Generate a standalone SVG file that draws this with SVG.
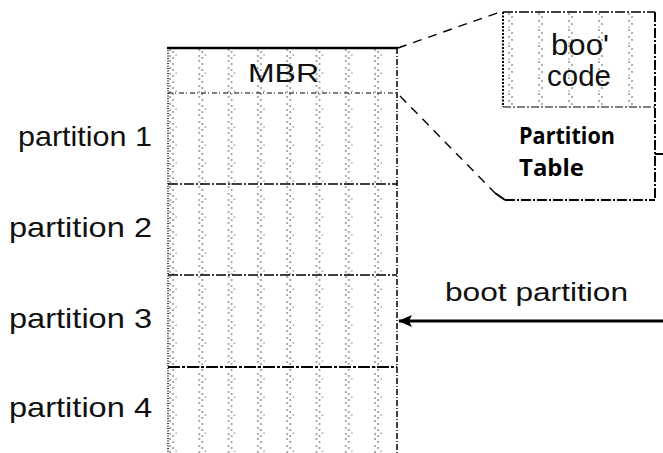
<svg xmlns="http://www.w3.org/2000/svg" width="663" height="453" viewBox="0 0 663 453">
<style>
.lbl{font-family:"Liberation Sans",Arial,sans-serif;fill:#111}
.bold{font-family:"Open Sans","Liberation Sans",sans-serif;font-weight:bold;fill:#000}
.edge{fill:none;stroke:#000}
.zoom{fill:none;stroke:#000;stroke-width:1.4;stroke-dasharray:9 7}
</style>
<defs>
<pattern id="dots" patternUnits="userSpaceOnUse" x="168" y="48" width="29.3" height="18">
<g fill="#222">
<circle cx="2" cy="2" r="0.7"/><circle cx="5" cy="4" r="0.7"/><circle cx="2" cy="8" r="0.7"/>
<circle cx="5" cy="10" r="0.7"/><circle cx="2" cy="13" r="0.7"/><circle cx="5" cy="16" r="0.7"/>
<circle cx="8" cy="7" r="0.6"/>
</g>
</pattern>
<pattern id="dots2" patternUnits="userSpaceOnUse" x="506" y="12" width="30" height="16">
<g fill="#222">
<circle cx="3" cy="2" r="0.7"/><circle cx="6" cy="5" r="0.7"/><circle cx="3" cy="9" r="0.7"/>
<circle cx="6" cy="12" r="0.7"/><circle cx="3" cy="15" r="0.6"/>
</g>
</pattern>
<marker id="arrow" viewBox="0 0 14 12" refX="13" refY="6" markerWidth="14" markerHeight="12" orient="auto" markerUnits="userSpaceOnUse">
<path d="M0,0 L14,6 L0,12 L3,6 Z" fill="#000"/>
</marker>
</defs>

<g id="disk">
<rect x="168" y="48" width="229" height="410" fill="url(#dots)"/>
<line class="edge" x1="167" y1="48" x2="398" y2="48" stroke-width="2.5"/>
<line class="edge" x1="168" y1="48" x2="168" y2="453" stroke-width="1.5" stroke-dasharray="1 1.5"/>
<line class="edge" x1="397" y1="48" x2="397" y2="453" stroke-width="1.5" stroke-dasharray="6 2 1 2"/>
</g>

<g id="mbr">
<line class="edge" x1="168" y1="93" x2="397" y2="93" stroke-width="1.2" stroke-dasharray="5 2 1 3"/>
<text class="lbl" x="248" y="82" font-size="25" textLength="71" lengthAdjust="spacingAndGlyphs">MBR</text>
</g>

<g id="partition1">
<text class="lbl" x="152" y="146" font-size="28" text-anchor="end" textLength="134" lengthAdjust="spacingAndGlyphs">partition 1</text>
</g>
<g id="partition2">
<line class="edge" x1="168" y1="184" x2="397" y2="184" stroke-width="1.6" stroke-dasharray="10 2 2 2"/>
<text class="lbl" x="152" y="237" font-size="28" text-anchor="end" textLength="143" lengthAdjust="spacingAndGlyphs">partition 2</text>
</g>
<g id="partition3">
<line class="edge" x1="168" y1="275" x2="397" y2="275" stroke-width="1.6" stroke-dasharray="10 2 2 2"/>
<text class="lbl" x="152" y="328" font-size="28" text-anchor="end" textLength="143" lengthAdjust="spacingAndGlyphs">partition 3</text>
</g>
<g id="partition4">
<line class="edge" x1="168" y1="367" x2="397" y2="367" stroke-width="2" stroke-dasharray="12 2 3 2"/>
<text class="lbl" x="152" y="417" font-size="28" text-anchor="end" textLength="143" lengthAdjust="spacingAndGlyphs">partition 4</text>
</g>

<g id="partition-table">
<rect x="503" y="12" width="152" height="95" fill="url(#dots2)"/>
<line class="edge" x1="503" y1="12" x2="655" y2="12" stroke-width="1.6" stroke-dasharray="10 2 2 2"/>
<line class="edge" x1="655" y1="12" x2="655" y2="200" stroke-width="2" stroke-dasharray="10 2 2 2"/>
<line class="edge" x1="505" y1="200" x2="655" y2="200" stroke-width="2" stroke-dasharray="10 2 2 2"/>
<line class="edge" x1="503" y1="12" x2="503" y2="107" stroke-width="2" stroke-dasharray="2 1.5"/>
<line class="edge" x1="503" y1="107" x2="655" y2="107" stroke-width="1.2" stroke-dasharray="8 2 2 2"/>
<line class="edge" x1="495" y1="193" x2="505" y2="200" stroke-width="2"/>
<line class="edge" x1="655" y1="154" x2="663" y2="154" stroke-width="2"/>
<text class="lbl" x="551" y="55" font-size="29" textLength="58" lengthAdjust="spacingAndGlyphs">boo'</text>
<text class="lbl" x="547" y="86" font-size="29" textLength="64" lengthAdjust="spacingAndGlyphs">code</text>
<text class="bold" x="519" y="144" font-size="23" textLength="96" lengthAdjust="spacingAndGlyphs">Partition</text>
<text class="bold" x="519" y="176" font-size="23" textLength="65" lengthAdjust="spacingAndGlyphs">Table</text>
</g>

<g id="connectors">
<line class="zoom" x1="398" y1="48" x2="500" y2="12"/>
<line class="zoom" x1="400" y1="96" x2="495" y2="193"/>
<line x1="663" y1="321" x2="399" y2="321" stroke="#000" stroke-width="3" marker-end="url(#arrow)"/>
</g>

<g id="boot-partition-label">
<text class="lbl" x="445" y="301" font-size="26" textLength="183" lengthAdjust="spacingAndGlyphs">boot partition</text>
</g>
</svg>
